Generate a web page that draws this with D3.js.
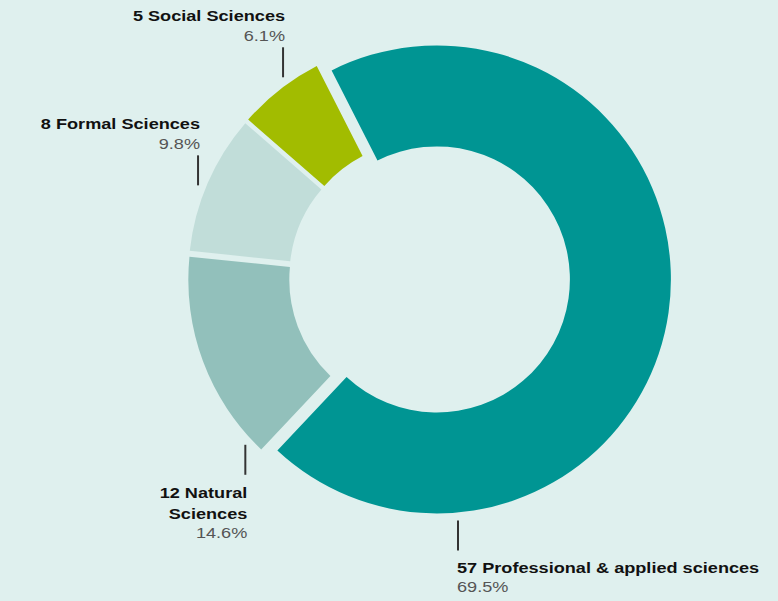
<!DOCTYPE html>
<html>
<head>
<meta charset="utf-8">
<script src="https://cdn.jsdelivr.net/npm/d3@7"></script>
<style>
  body { margin: 0; background: #dff0ee; }
  svg { display: block; }
  text { font-family: "Liberation Sans", Arial, Helvetica, sans-serif; }
</style>
</head>
<body>
<div class="container"></div>
<script>
// data
var categories = ["Professional & applied sciences", "Natural Sciences", "Formal Sciences", "Social Sciences"];
var counts = [57, 12, 8, 5];
var shares = ["69.5%", "14.6%", "9.8%", "6.1%"];
// label text lines as they are broken in the chart
var labelLines = [["57 Professional & applied sciences"], ["12 Natural", "Sciences"], ["8 Formal Sciences"], ["5 Social Sciences"]];

var colors = ["#009593", "#92c0bb", "#c1ddd9", "#a2bc00"];

var W = 778, H = 601;
var cx = 427, cy = 278;
var innerR = 133, outerR = 234;
var deg = Math.PI / 180;
var startDeg = -27;

// how far each slice is pulled out from the centre
var explode = [10, 5, 5, 5];
// angle (degrees) on the ring where each leader line starts
var leaderAngle = [175, 227, 292, 324.4];

var svg = d3.select(".container")
  .append("svg")
  .attr("width", W)
  .attr("height", H);

svg.append("rect").attr("width", W).attr("height", H).attr("fill", "#dff0ee");

var pie = d3.pie()
  .sort(null)
  .value(function(d) { return d; })
  .startAngle(startDeg * deg)
  .endAngle((360 + startDeg) * deg);

var arcs = pie(counts);

var arc = d3.arc()
  .innerRadius(innerR)
  .outerRadius(outerR)
  .padAngle(0.008);

function offset(d, i) {
  var a = (d.startAngle + d.endAngle) / 2;
  return [explode[i] * Math.sin(a), -explode[i] * Math.cos(a)];
}

var g = svg.append("g").attr("transform", "translate(" + cx + "," + cy + ")");

g.selectAll("path.slice")
  .data(arcs)
  .enter()
  .append("path")
  .attr("class", "slice")
  .attr("d", arc)
  .attr("fill", function(d, i) { return colors[i]; })
  .attr("transform", function(d, i) {
    var o = offset(d, i);
    return "translate(" + o[0] + "," + o[1] + ")";
  });

// labels with short vertical leader lines
arcs.forEach(function(d, i) {
  var o = offset(d, i);
  var a = leaderAngle[i] * deg;
  var r = outerR + 8;
  var x = o[0] + r * Math.sin(a);
  var y = o[1] - r * Math.cos(a);
  var up = Math.cos(a) > 0;
  var len = 30;
  var y2 = up ? y - len : y + len;

  g.append("line")
    .attr("x1", x).attr("x2", x)
    .attr("y1", y).attr("y2", y2)
    .attr("stroke", "#333")
    .attr("stroke-width", 2);

  var leftSide = Math.sin(a) < 0;
  var tx = leftSide ? x + 2 : x - 1;
  var anchor = leftSide ? "end" : "start";
  var lines = labelLines[i];

  var rows = [];
  if (up) {
    var pctY = y2 - 6;
    for (var k = 0; k < lines.length; k++) {
      rows.push({ t: lines[k], y: pctY - 20 * (lines.length - k), bold: true });
    }
    rows.push({ t: shares[i], y: pctY, bold: false });
  } else {
    var firstY = y2 + 23;
    for (var k = 0; k < lines.length; k++) {
      rows.push({ t: lines[k], y: firstY + 21 * k, bold: true });
    }
    rows.push({ t: shares[i], y: firstY + 21 * (lines.length - 1) + 19, bold: false });
  }

  rows.forEach(function(r) {
    g.append("text")
      .attr("transform", "translate(" + tx + "," + r.y + ") scale(1.17,1)")
      .attr("text-anchor", anchor)
      .attr("font-size", "15.5px")
      .attr("font-weight", r.bold ? "bold" : "normal")
      .attr("fill", r.bold ? "#111" : "#555")
      .text(r.t);
  });
});
</script>
</body>
</html>
